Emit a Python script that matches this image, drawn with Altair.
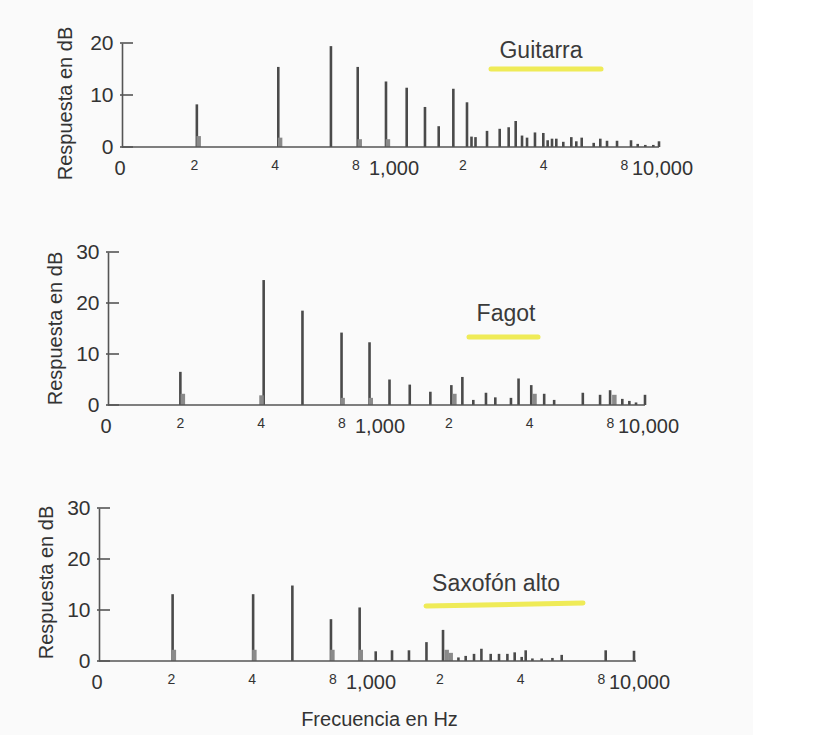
import altair as alt
import pandas as pd

# ---------------- data ----------------
x_tick_values = [100, 200, 400, 800, 1000, 2000, 4000, 8000, 10000]
x_tick_labels = ["0", "2", "4", "8", "1,000", "2", "4", "8", "10,000"]

# Guitarra
gt_freq = [190, 382, 600, 755, 962, 1149, 1344, 1512, 1714, 1927, 2003, 2073, 2288, 2551,
           2755, 2926, 3089, 3225, 3452, 3708, 3849, 3995, 4145, 4401, 4714, 4920, 5154,
           5712, 6045, 6403, 6977, 7866, 8332, 8892, 9524, 10000]
gt_db = [8.2, 15.4, 19.4, 15.4, 12.6, 11.4, 7.7, 4.0, 11.2, 8.6, 2.0, 1.9, 3.1, 3.5,
         3.8, 5.0, 2.2, 1.8, 2.8, 2.7, 1.3, 1.6, 1.6, 1.0, 1.9, 1.1, 1.8,
         0.8, 1.6, 1.2, 1.2, 1.3, 0.6, 0.4, 0.4, 1.1]
gt_stub_freq = [193, 388, 768, 978]
gt_stub_db = [2.1, 1.8, 1.5, 1.5]
gt_yticks = [0, 10, 20]

# Fagot
fg_freq = [186, 380, 530, 741, 942, 1118, 1330, 1587, 1900, 2088, 2294, 2557, 2770, 3168,
           3381, 3770, 4212, 4588, 5867, 6803, 7413, 8232, 8744, 9259, 10000]
fg_db = [6.5, 24.5, 18.5, 14.2, 12.3, 5.0, 4.0, 2.6, 3.9, 5.5, 1.0, 2.4, 1.5, 1.4,
         5.2, 3.9, 2.2, 1.0, 2.4, 2.0, 2.9, 1.2, 0.8, 0.5, 2.0]
fg_stub_freq = [190, 373, 748, 952, 1950, 3877, 7689]
fg_stub_db = [2.2, 1.9, 1.4, 1.4, 2.2, 2.2, 2.0]
fg_yticks = [0, 10, 20, 30]

# Saxofón alto
sx_freq = [188, 375, 525, 731, 935, 1073, 1234, 1427, 1658, 1911, 2181, 2321, 2493, 2656,
           2876, 3089, 3319, 3533, 3752, 3883, 4113, 4455, 4883, 5288, 7711, 9830]
sx_db = [13.1, 13.1, 14.8, 8.2, 10.5, 1.9, 2.1, 2.1, 3.7, 6.1, 0.7, 1.0, 1.4, 2.4,
         1.4, 1.4, 1.4, 1.7, 0.8, 2.1, 0.5, 0.5, 0.6, 1.2, 2.1, 2.0]
sx_stub_freq = [190, 379, 740, 944, 1972, 2041]
sx_stub_db = [2.2, 2.2, 2.2, 2.2, 2.2, 1.6]
sx_yticks = [0, 10, 20, 30]

# ---------------- styling / layout ----------------
FONT = "Liberation Sans"
TXT = "#333333"
BAR = "#4a4a4a"
STUB = "#8a8a8a"
AXC = "#555555"
HL = "#ece83a"
W = 560          # shared plot width
PX_DEC = 268.5   # pixels per decade

big_test = "datum.value == 100 || datum.value == 1000 || datum.value == 10000"
small_test = "datum.value != 100 && datum.value != 1000 && datum.value != 10000"
label_expr = " : ".join(
    f"datum.value == {v} ? '{t}'" for v, t in zip(x_tick_values, x_tick_labels)
) + " : ''"


def panel(name, freq, db, sfreq, sdb, yticks, height, shift, title_xy, hl_xy, xtitle,
          ytitle_y, ytitle_pad):
    ymax = yticks[-1]
    fmin = 100 / 10 ** (shift / PX_DEC)
    fmax = fmin * 10 ** (W / PX_DEC)
    xs = alt.Scale(type="log", domain=[fmin, fmax], nice=False)
    ys = alt.Scale(domain=[0, ymax], nice=False, zero=True)

    main = pd.DataFrame({"f": freq, "db": db, "z": [0] * len(freq)})
    stub = pd.DataFrame({"f": sfreq, "db": sdb, "z": [0] * len(sfreq)})

    x_axis = alt.Axis(
        values=x_tick_values,
        labelExpr=label_expr,
        labelFontSize={"condition": {"test": big_test, "value": 20}, "value": 14},
        labelOffset={"condition": {"test": small_test, "value": -9}, "value": 3},
        labelAlign={"condition": {"test": "datum.value == 100", "value": "right"},
                    "value": "center"},
        labelPadding=11,
        labelBaseline="top",
        labelOverlap=False,
        labelFlush=False,
        labelColor=TXT,
        labelFont=FONT,
        domain=False, ticks=False, grid=False,
        title=xtitle,
        titleFontSize=20, titleFontWeight="normal", titleColor=TXT, titleFont=FONT,
        titlePadding=17,
    )
    y_axis = alt.Axis(
        values=yticks, title="Respuesta en dB", offset=-shift,
        labelFontSize=21, labelColor=TXT, labelFont=FONT, labelPadding=9,
        ticks=False, grid=False,
        domainColor=AXC, domainWidth=1.6,
        titleFontSize=20, titleFontWeight="normal", titleColor=TXT, titleFont=FONT,
        titlePadding=ytitle_pad, titleY=ytitle_y,
    )

    bars = alt.Chart(main).mark_rule(color=BAR, strokeWidth=2.6).encode(
        x=alt.X("f:Q", scale=xs, axis=x_axis),
        y=alt.Y("db:Q", scale=ys, axis=y_axis),
        y2="z:Q",
    )
    stubs = alt.Chart(stub).mark_rule(color=STUB, strokeWidth=4.5).encode(
        x=alt.X("f:Q", scale=xs),
        y=alt.Y("db:Q", scale=ys),
        y2="z:Q",
    )
    base = alt.Chart(pd.DataFrame({"f": [100], "f2": [10000], "db": [0]})).mark_rule(
        color=AXC, strokeWidth=1.6
    ).encode(
        x=alt.X("f:Q", scale=xs),
        x2="f2:Q",
        y=alt.Y("db:Q", scale=ys),
    )
    ticks = alt.Chart(pd.DataFrame({"f": [100] * len(yticks), "db": yticks})).mark_rule(
        color=AXC, strokeWidth=1.6, xOffset=-2, x2Offset=11
    ).encode(
        x=alt.X("f:Q", scale=xs),
        x2="f:Q",
        y=alt.Y("db:Q", scale=ys),
    )
    hl = alt.Chart(pd.DataFrame({"t": [name]})).mark_rule(
        color=HL, strokeWidth=5, opacity=0.85, strokeCap="round"
    ).encode(
        x=alt.value(hl_xy[0]), x2=alt.value(hl_xy[1]),
        y=alt.value(hl_xy[2]), y2=alt.value(hl_xy[3]),
    )
    label = alt.Chart(pd.DataFrame({"t": [name]})).mark_text(
        font=FONT, fontSize=23, color="#3a3a3a", align="center", baseline="alphabetic"
    ).encode(text="t:N", x=alt.value(title_xy[0]), y=alt.value(title_xy[1]))

    return alt.layer(bars, stubs, base, ticks, hl, label).properties(width=W, height=height)


top = panel("Guitarra", gt_freq, gt_db, gt_stub_freq, gt_stub_db, gt_yticks, 104, 23,
            (442, 15), (392, 502, 26, 26), None, 60, 14)
mid = panel("Fagot", fg_freq, fg_db, fg_stub_freq, fg_stub_db, fg_yticks, 153, 9,
            (407, 69), (370, 439, 85, 85), None, 76, 10)
bot = panel("Saxofón alto", sx_freq, sx_db, sx_stub_freq, sx_stub_db, sx_yticks, 153, 0,
            (397, 83), (327, 484, 98, 95), "Frecuencia en Hz", 74, 10)

chart = alt.vconcat(top, mid, bot, spacing=61).properties(
    padding={"left": 36, "top": 26, "right": 60, "bottom": 6},
    background="#fafafa",
).configure(font=FONT).configure_view(strokeWidth=0)

chart.save("out.html", embed_options={"renderer": "svg", "actions": False})
